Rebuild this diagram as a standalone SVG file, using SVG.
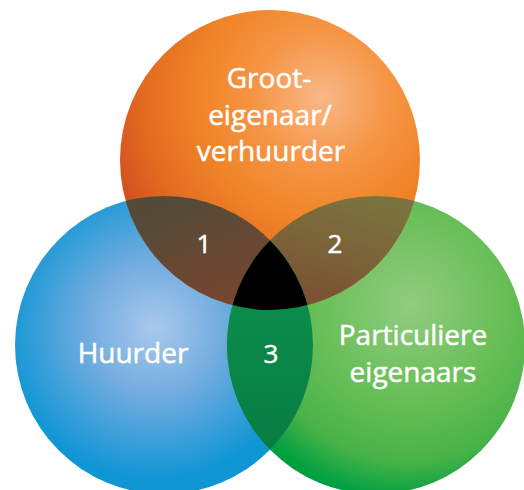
<svg xmlns="http://www.w3.org/2000/svg" width="524" height="490" viewBox="0 0 524 490">
  <style>
    .lbl { font-family: "Open Sans", "Noto Sans", "Liberation Sans", sans-serif; font-size: 28px; fill: #ffffff; stroke: #ffffff; stroke-width: 0.5px; text-anchor: middle; }
    .num { font-family: "Open Sans", "Noto Sans", "Liberation Sans", sans-serif; font-size: 26px; fill: #ffffff; stroke: #ffffff; stroke-width: 0.5px; text-anchor: middle; }
  </style>
  <defs>
    <radialGradient id="gOrange" gradientUnits="userSpaceOnUse" cx="322" cy="98" r="225">
      <stop offset="0" stop-color="#f9b887"/>
      <stop offset="0.3" stop-color="#f59545"/>
      <stop offset="0.55" stop-color="#f08426"/>
      <stop offset="0.8" stop-color="#e26a21"/>
      <stop offset="1" stop-color="#d14d1d"/>
    </radialGradient>
    <radialGradient id="gBlue" gradientUnits="userSpaceOnUse" cx="155" cy="328" r="150">
      <stop offset="0" stop-color="#a9c9ec"/>
      <stop offset="0.45" stop-color="#72acdf"/>
      <stop offset="1" stop-color="#1196d5"/>
    </radialGradient>
    <radialGradient id="gGreen" gradientUnits="userSpaceOnUse" cx="410" cy="305" r="195">
      <stop offset="0" stop-color="#92cc80"/>
      <stop offset="0.5" stop-color="#66be55"/>
      <stop offset="0.8" stop-color="#48b348"/>
      <stop offset="1" stop-color="#00a041"/>
    </radialGradient>
    <linearGradient id="g1" gradientUnits="userSpaceOnUse" x1="190" y1="200" x2="230" y2="305">
      <stop offset="0" stop-color="#534b38"/>
      <stop offset="1" stop-color="#79452e"/>
    </linearGradient>
    <linearGradient id="g2" gradientUnits="userSpaceOnUse" x1="360" y1="200" x2="330" y2="305">
      <stop offset="0" stop-color="#7a733f"/>
      <stop offset="1" stop-color="#7b5232"/>
    </linearGradient>
    <linearGradient id="g3" gradientUnits="userSpaceOnUse" x1="270" y1="300" x2="270" y2="450">
      <stop offset="0" stop-color="#0b8d4b"/>
      <stop offset="1" stop-color="#087c43"/>
    </linearGradient>
    <clipPath id="cOrange"><circle cx="270" cy="160" r="150"/></clipPath>
    <clipPath id="cBlue"><circle cx="164" cy="345" r="149"/></clipPath>
    <clipPath id="cGreen"><circle cx="376" cy="345" r="149"/></clipPath>
  </defs>

  <g id="node-huurder">
    <circle cx="164" cy="345" r="149" fill="url(#gBlue)"/>
  </g>
  <g id="node-particuliere-eigenaars">
    <circle cx="376" cy="345" r="149" fill="url(#gGreen)"/>
  </g>
  <g id="node-grooteigenaar">
    <circle cx="270" cy="160" r="150" fill="url(#gOrange)"/>
  </g>

  <g id="overlap-1" clip-path="url(#cOrange)">
    <circle cx="164" cy="345" r="149" fill="url(#g1)"/>
  </g>
  <g id="overlap-2" clip-path="url(#cOrange)">
    <circle cx="376" cy="345" r="149" fill="url(#g2)"/>
  </g>
  <g id="overlap-3" clip-path="url(#cBlue)">
    <circle cx="376" cy="345" r="149" fill="url(#g3)"/>
  </g>
  <g id="overlap-center" clip-path="url(#cOrange)">
    <g clip-path="url(#cBlue)">
      <circle cx="376" cy="345" r="149" fill="#000000"/>
    </g>
  </g>

  <g id="labels">
    <text class="lbl" x="269" y="88">Groot-</text>
    <text class="lbl" x="270" y="125">eigenaar/</text>
    <text class="lbl" x="271" y="161">verhuurder</text>
    <text class="lbl" x="133" y="363">Huurder</text>
    <text class="lbl" x="413" y="345">Particuliere</text>
    <text class="lbl" x="413" y="382">eigenaars</text>
    <text class="num" x="204" y="253">1</text>
    <text class="num" x="335" y="253">2</text>
    <text class="num" x="271" y="363">3</text>
  </g>
</svg>
